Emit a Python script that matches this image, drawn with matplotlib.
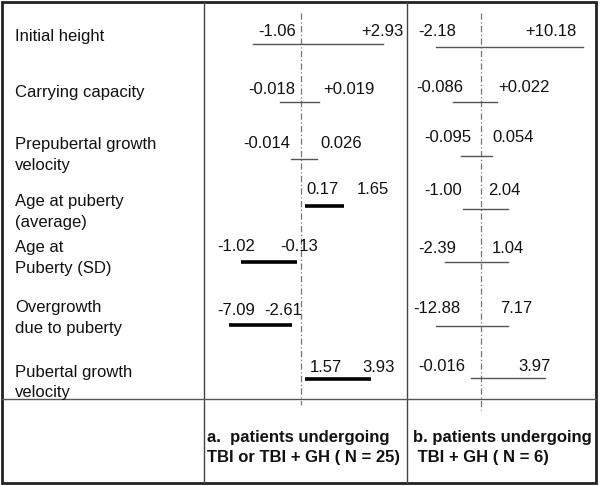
import matplotlib
matplotlib.use('Agg')
import matplotlib.pyplot as plt
from matplotlib.patches import Rectangle

plt.rcParams['font.family'] = ['Liberation Sans', 'DejaVu Sans']

# row labels (each row may span two lines)
row_labels = [
    ['Initial height'],
    ['Carrying capacity'],
    ['Prepubertal growth', 'velocity'],
    ['Age at puberty', '(average)'],
    ['Age at', 'Puberty (SD)'],
    ['Overgrowth', 'due to puberty'],
    ['Pubertal growth', 'velocity'],
]

# interval bounds as printed
a_lo = ['-1.06', '-0.018', '-0.014', '0.17', '-1.02', '-7.09', '1.57']
a_hi = ['+2.93', '+0.019', '0.026', '1.65', '-0.13', '-2.61', '3.93']
b_lo = ['-2.18', '-0.086', '-0.095', '-1.00', '-2.39', '-12.88', '-0.016']
b_hi = ['+10.18', '+0.022', '0.054', '2.04', '1.04', '7.17', '3.97']

# schematic bar extents (offset from the reference line, in pixels)
a_bar_lo = [-48, -21, -10, 4, -60, -72, 4]
a_bar_hi = [82, 18, 16, 43, -4, -9, 70]
a_bold = [False, False, False, True, True, True, True]
b_bar_lo = [-45, -28, -20, -18, -36, -45, -10]
b_bar_hi = [102, 16, 11, 27, 27, 27, 64]

panel_a_title = ['a.  patients undergoing', 'TBI or TBI + GH ( N = 25)']
panel_b_title = ['b. patients undergoing', ' TBI + GH ( N = 6)']

# layout (pixel coords)
label_y = [[37], [93], [144, 165], [201, 222], [247, 268], [307, 328], [372, 392]]
a_center, b_center = 301, 481
a_bar_y = [44, 102, 159, 206, 262, 325, 379]
b_bar_y = [47, 102, 156, 209, 262, 326, 378]
a_txt_y = [32, 90, 143, 189, 246, 310, 367]
b_txt_y = [32, 88, 137, 190, 248, 308, 366]
a_lo_x = [258, 248, 243, 306, 217, 217, 310]
a_hi_x = [361, 323, 320, 357, 280, 264, 362]
b_lo_x = [418, 416, 424, 424, 418, 413, 418]
b_hi_x = [525, 498, 492, 488, 492, 500, 518]

fig = plt.figure(figsize=(6.0, 4.86), dpi=100)
ax = fig.add_axes([0, 0, 1, 1])
ax.set_xlim(0, 600)
ax.set_ylim(486, 0)
ax.axis('off')

fs = 12
txtc = '#111111'

# table frame
ax.add_patch(Rectangle((2, 2), 594, 481, fill=False, lw=2.0, ec='#222222'))
ax.plot([204, 204], [2, 483], color='#444444', lw=1.0)
ax.plot([407, 407], [2, 483], color='#444444', lw=1.0)
ax.plot([2, 596], [399, 399], color='#555555', lw=1.0)

# reference lines
ax.plot([a_center, a_center], [13, 405], color='#777777', lw=0.9, ls=(0, (5, 2, 1, 2)))
ax.plot([b_center, b_center], [13, 410], color='#777777', lw=0.9, ls=(0, (5, 2, 1, 2)))

for i, lines in enumerate(row_labels):
    for txt, y in zip(lines, label_y[i]):
        ax.text(15, y, txt, fontsize=fs, color=txtc, va='center', ha='left')

for i in range(len(a_lo)):
    if a_bold[i]:
        ax.plot([a_center + a_bar_lo[i], a_center + a_bar_hi[i]], [a_bar_y[i]] * 2,
                color='black', lw=2.6, solid_capstyle='butt')
    else:
        ax.plot([a_center + a_bar_lo[i], a_center + a_bar_hi[i]], [a_bar_y[i]] * 2,
                color='#555555', lw=1.0)
    ax.text(a_lo_x[i], a_txt_y[i], a_lo[i], fontsize=fs, color=txtc, va='center', ha='left')
    ax.text(a_hi_x[i], a_txt_y[i], a_hi[i], fontsize=fs, color=txtc, va='center', ha='left')

for i in range(len(b_lo)):
    ax.plot([b_center + b_bar_lo[i], b_center + b_bar_hi[i]], [b_bar_y[i]] * 2,
            color='#555555', lw=1.0)
    ax.text(b_lo_x[i], b_txt_y[i], b_lo[i], fontsize=fs, color=txtc, va='center', ha='left')
    ax.text(b_hi_x[i], b_txt_y[i], b_hi[i], fontsize=fs, color=txtc, va='center', ha='left')

for txt, y in zip(panel_a_title, [437, 457]):
    ax.text(207, y, txt, fontsize=fs, fontweight='bold', color=txtc, va='center', ha='left')
for txt, y in zip(panel_b_title, [437, 457]):
    ax.text(413, y, txt, fontsize=fs, fontweight='bold', color=txtc, va='center', ha='left')

fig.savefig('out.png', dpi=100)
